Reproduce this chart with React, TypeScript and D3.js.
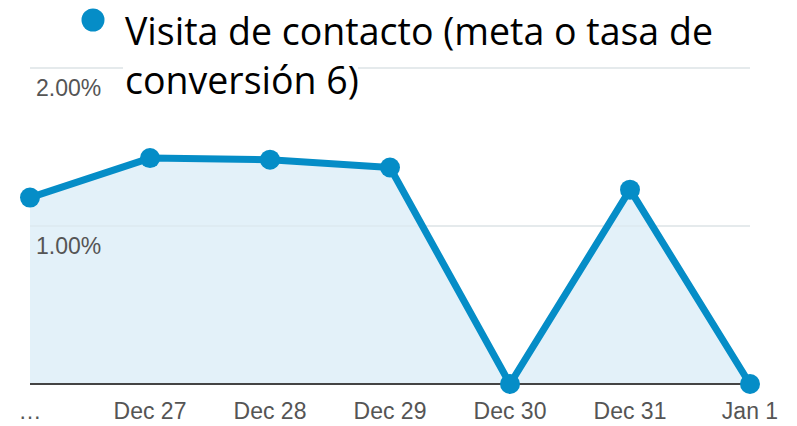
import React from 'react';
import * as d3 from 'd3';

const categories = ['…', 'Dec 27', 'Dec 28', 'Dec 29', 'Dec 30', 'Dec 31', 'Jan 1'];
const values = [1.18, 1.43, 1.42, 1.37, 0, 1.23, 0];
const yTicks = [1, 2];
const legendLines = ['Visita de contacto (meta o tasa de', 'conversión 6)'];

const W = 797, H = 426;
const BLUE = '#058dc7';

export default function App() {
  const x = d3.scalePoint<string>().domain(categories).range([30, 750]);
  const y = d3.scaleLinear().domain([0, 2]).range([384, 68]);
  const pts = categories.map((c, i) => [x(c) as number, y(values[i])] as [number, number]);
  const line = d3.line()(pts) || '';
  const area = d3.area<[number, number]>().x(d => d[0]).y0(y(0)).y1(d => d[1])(pts) || '';

  return (
    <svg width={W} height={H} style={{ position: 'absolute', left: 0, top: 0, background: '#fff' }}>
      {/* gridlines */}
      {yTicks.map(t => (
        <line key={t} x1={30} x2={750} y1={y(t)} y2={y(t)} stroke="#e8e8e8" strokeWidth={1.5} />
      ))}
      <path d={area} fill="#e3f1f9" />
      {yTicks.map(t => (
        <line key={'g' + t} x1={30} x2={750} y1={y(t)} y2={y(t)} stroke="#d8e2e8" strokeOpacity={0.6} strokeWidth={1.5} />
      ))}
      <line x1={30} x2={750} y1={y(0)} y2={y(0)} stroke="#444" strokeWidth={2} />
      {yTicks.map(t => (
        <text key={'l' + t} x={36} y={y(t) + 28} fontFamily="Arial, 'Liberation Sans'" fontSize={23} fill="#555">
          {d3.format('.2f')(t)}%
        </text>
      ))}
      <path d={line} fill="none" stroke={BLUE} strokeWidth={7} strokeLinejoin="round" />
      {pts.map((p, i) => (
        <circle key={i} cx={p[0]} cy={p[1]} r={10} fill={BLUE} />
      ))}
      {categories.map(c => (
        <text key={c} x={x(c)} y={419} textAnchor="middle" fontFamily="Arial, 'Liberation Sans'" fontSize={23} fill="#555">
          {c}
        </text>
      ))}
      {/* legend */}
      <rect x={123} y={60} width={235} height={45} fill="#fff" />
      <circle cx={93} cy={20} r={11.5} fill={BLUE} />
      {legendLines.map((l, i) => (
        <text key={i} x={125} y={45 + i * 49} fontFamily="'Open Sans'" fontSize={37.5} fill="#000">
          {l}
        </text>
      ))}
    </svg>
  );
}
